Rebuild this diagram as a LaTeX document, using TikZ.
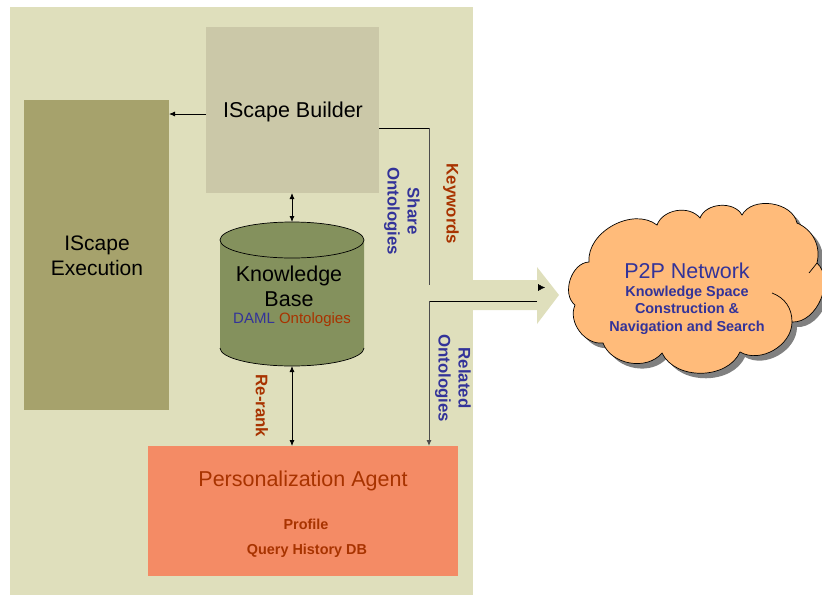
\documentclass[tikz,border=0pt]{standalone}
\usepackage{fontspec}
\setmainfont{Liberation Sans}
\usetikzlibrary{arrows.meta}
\definecolor{panelcol}{HTML}{DFDFBC}
\definecolor{buildercol}{HTML}{CBC8A8}
\definecolor{execcol}{HTML}{A6A26C}
\definecolor{basecol}{HTML}{84915D}
\definecolor{agentcol}{HTML}{F48B65}
\definecolor{cloudcol}{HTML}{FFBB7A}
\definecolor{bluetxt}{HTML}{333399}
\definecolor{redtxt}{HTML}{A83300}
\tikzset{
  block/.style={anchor=north west,inner sep=0pt,outer sep=0pt},
  link/.style={line width=0.8pt,-{Latex[length=6pt,width=5pt]}},
  duallink/.style={line width=0.8pt,{Latex[length=6pt,width=5pt]}-{Latex[length=6pt,width=5pt]}},
  biglabel/.style={font=\fontsize{21.5}{25}\selectfont,align=center},
  smalllabel/.style={font=\fontsize{14.4}{17.5}\selectfont\bfseries,align=center},
  sidelabel/.style={font=\fontsize{16.8}{20}\selectfont\bfseries,align=center,rotate=-90}
}
\begin{document}
\begin{tikzpicture}[x=1pt,y=-1pt]
  \useasboundingbox (0,0) rectangle (822,595);
  \fill[panelcol] (10,7) rectangle (473,595);
  \fill[panelcol] (473,280) -- (537,280) -- (537,267) -- (559,295) -- (537,324) -- (537,310) -- (473,310) -- cycle;
  \node[block,fill=buildercol,minimum width=173pt,minimum height=166pt] (builder) at (206,27) {};
  \node[block,fill=execcol,minimum width=145pt,minimum height=310pt] (exec) at (24,100) {};
  \node[block,fill=agentcol,minimum width=310pt,minimum height=130pt] (agent) at (148,446) {};
  % cylinder
  \node[minimum width=144pt,minimum height=144pt,inner sep=0pt,outer sep=0pt] (base) at (292,294) {};
  \fill[basecol] (220,240) -- (220,348) arc[start angle=180,end angle=360,x radius=72pt,y radius=18pt]
    -- (364,240) arc[start angle=0,end angle=180,x radius=72pt,y radius=18pt] -- cycle;
  \draw[line width=0.7pt] (292,240) ellipse[x radius=72pt,y radius=18pt];
  \draw[line width=0.7pt] (220,348) arc[start angle=180,end angle=360,x radius=72pt,y radius=18pt];
  % cloud
  \foreach \name/\px/\py in {a/589/262,b/657/225,c/700/218,d/742/215,e/797/223,f/817/263,
    g/792/322,h/740/352,i/662/353,j/603/343,k/575/305}
    \coordinate (\name) at (\px,\py);
  \def\cloudpath{(a) to[bend left=66] (b) to[bend left=60] (c) to[bend left=65] (d)
    to[bend left=70] (e) to[bend left=40] (f) to[bend left=70] (g) to[bend left=60] (h)
    to[bend left=65] (i) to[bend left=60] (j) to[bend left=60] (k) to[bend left=70] (a) -- cycle}
  \fill[gray,transform canvas={xshift=5pt,yshift=-5pt}] \cloudpath;
  \draw[line width=0.7pt,fill=cloudcol] \cloudpath;
  \draw[line width=0.7pt] (817,263) -- (809,273);
  \draw[line width=0.7pt] (772,293) to[bend left=35] (792,322);
  % labels
  \node[biglabel] (buildertxt) at (293,112) {IScape Builder};
  \node[biglabel,font=\fontsize{21}{25}\selectfont] (exectxt) at (97,256) {IScape\\Execution};
  \node[biglabel] (basetxt) at (289,286) {Knowledge\\Base};
  \node[font=\fontsize{15}{17}\selectfont] (owltxt) at (292,320) {\textcolor{bluetxt}{DAML} \textcolor{redtxt}{Ontologies}};
  \node[biglabel,text=redtxt] (agenttxt) at (303,481) {Personalization Agent};
  \node[smalllabel,text=redtxt] (profile) at (306,524) {Profile};
  \node[smalllabel,text=redtxt] (history) at (307,551) {Query History DB};
  \node[biglabel,text=bluetxt] (p2p) at (687,271) {P2P Network};
  \node[smalllabel,text=bluetxt] (space) at (687,310) {Knowledge Space\\Construction \&\\Navigation and Search};
  \node[sidelabel,text=redtxt] (keywords) at (451,204) {Keywords};
  \node[sidelabel,text=bluetxt] (share) at (402,211) {Share\\Ontologies};
  \node[sidelabel,text=bluetxt] (related) at (453,378) {Related\\Ontologies};
  \node[sidelabel,text=redtxt] (rerank) at (262,406) {Re-rank};
  % connectors
  \coordinate (execin) at (exec.east |- 0,114);
  \coordinate (builderout) at (builder.west |- 0,114);
  \coordinate (keyout) at (builder.east |- 0,128);
  \coordinate (keybend) at (429,128);
  \coordinate (keyend) at (429,285);
  \coordinate (tipstart) at (538,287.5);
  \coordinate (tipend) at (545,287.5);
  \coordinate (relstart) at (537,301);
  \coordinate (relbend) at (429,301);
  \coordinate (relend) at (agent.north -| 429,0);
  \draw[link] (builderout) -- (execin);
  \draw[duallink] (builder.south -| 292,0) -- (base.north);
  \draw[duallink] (base.south) -- (agent.north -| 292,0);
  \draw[line width=0.8pt] (keyout) -- (keybend);
  \draw[line width=1pt,black!70] (keybend) -- (keyend);
  \draw[-{Latex[length=7pt,width=7pt]},line width=0.4pt] (tipstart) -- (tipend);
  \draw[line width=0.8pt] (relstart) -- (relbend);
  \draw[link,line width=1pt,black!70] (relbend) -- (relend);
\end{tikzpicture}
\end{document}
